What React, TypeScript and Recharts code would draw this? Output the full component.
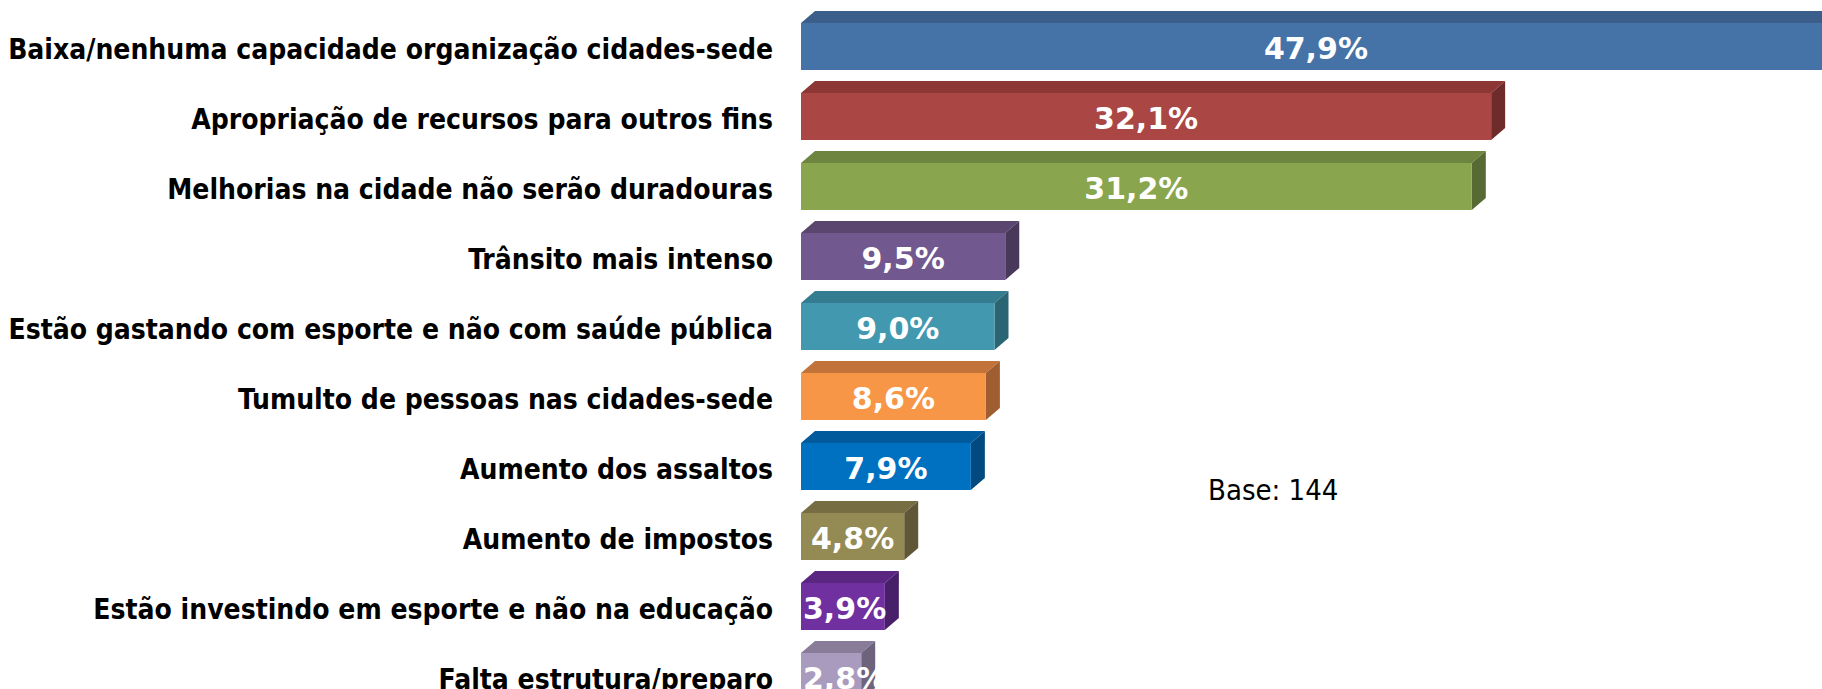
import React from "react";
import { BarChart, Bar, XAxis, YAxis, LabelList, Customized } from "recharts";

const categories = [
  "Baixa/nenhuma capacidade organização cidades-sede",
  "Apropriação de recursos para outros fins",
  "Melhorias na cidade não serão duradouras",
  "Trânsito mais intenso",
  "Estão gastando com esporte e não com saúde pública",
  "Tumulto de pessoas nas cidades-sede",
  "Aumento dos assaltos",
  "Aumento de impostos",
  "Estão investindo em esporte e não na educação",
  "Falta estrutura/preparo",
];
const values = [47.9, 32.1, 31.2, 9.5, 9.0, 8.6, 7.9, 4.8, 3.9, 2.8];
const frontColors = ["#4572A7", "#AA4643", "#89A54E", "#71588F", "#4198AF", "#F79646", "#0070C0", "#948A54", "#7030A0", "#A99BBD"];
const topColors = ["#3B5F8A", "#8C3734", "#6E8540", "#5A466F", "#347C8F", "#C2733A", "#005A9C", "#766D42", "#5A2682", "#887C99"];
const sideColors = ["#2F4D72", "#6F2B29", "#586A33", "#48385A", "#2A6574", "#9E5E2F", "#004A80", "#5F5735", "#48206A", "#6E637C"];
const baseNote = "Base: 144";

const data = categories.map((name, i) => ({ name, value: values[i], idx: i }));

const DX = 14;
const DY = 12;

const Bar3D = (props: any) => {
  const { x, y, width, height, payload } = props;
  const i = payload.idx;
  const top = `${x},${y} ${x + DX},${y - DY} ${x + width + DX},${y - DY} ${x + width},${y}`;
  const side = `${x + width},${y} ${x + width + DX},${y - DY} ${x + width + DX},${y + height - DY} ${x + width},${y + height}`;
  return (
    <g>
      <polygon points={top} fill={topColors[i]} />
      <polygon points={side} fill={sideColors[i]} />
      <rect x={x} y={y} width={width} height={height} fill={frontColors[i]} />
    </g>
  );
};

const fmt = (v: number) => v.toFixed(1).replace(".", ",") + "%";

const ValueLabel = (props: any) => {
  const { x, y, width, height, value } = props;
  const s = fmt(value);
  const fs = 30;
  const digits = s.replace(/[^0-9]/g, "").length;
  const tw = fs * (0.696 * digits + 0.38 + 1.002);
  const cx = x + width / 2;
  const tx = Math.max(x + 2, cx - tw / 2);
  return (
    <text x={tx} y={y + height / 2 + 12} fill="#FFFFFF" fontFamily="'DejaVu Sans', Verdana, sans-serif" fontWeight="bold" fontSize={fs} textAnchor="start">
      {s}
    </text>
  );
};

const CatTick = (props: any) => {
  const { x, y, payload } = props;
  return (
    <text x={x} y={y + 3} textAnchor="end" dominantBaseline="central" fill="#000" fontFamily="'DejaVu Sans Condensed', 'DejaVu Sans', sans-serif" fontStretch="condensed" fontWeight="bold" fontSize={28}>
      {payload.value}
    </text>
  );
};

const Note = () => (
  <text x={1208} y={500} fill="#000" fontFamily="'DejaVu Sans Condensed', 'DejaVu Sans', sans-serif" fontStretch="condensed" fontSize={29}>
    {baseNote}
  </text>
);

export default function App() {
  return (
    <div style={{ position: "absolute", left: 0, top: 0, width: 1822, height: 689, overflow: "hidden", background: "#fff" }}>
      <BarChart
        layout="vertical"
        width={1876}
        height={720}
        data={data}
        margin={{ top: 11, right: 0, bottom: 9, left: 0 }}
        barSize={47}
      >
        <XAxis type="number" domain={[0, 50]} hide />
        <YAxis
          type="category"
          dataKey="name"
          width={801}
          axisLine={false}
          tickLine={false}
          tickSize={0}
          tickMargin={28}
          interval={0}
          tick={<CatTick />}
        />
        <Bar dataKey="value" isAnimationActive={false} shape={<Bar3D />}>
          <LabelList dataKey="value" content={<ValueLabel />} />
        </Bar>
        <Customized component={Note} />
      </BarChart>
    </div>
  );
}
